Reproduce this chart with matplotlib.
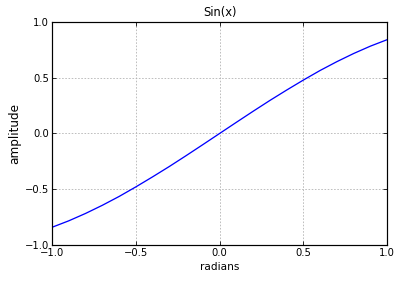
import matplotlib
matplotlib.use('Agg')
import matplotlib.pyplot as plt

# values
x = [-1.0, -0.9, -0.8, -0.7, -0.6, -0.5, -0.4, -0.3, -0.2, -0.1, 0.0,
     0.1, 0.2, 0.3, 0.4, 0.5, 0.6, 0.7, 0.8, 0.9, 1.0]
y = [-0.841, -0.783, -0.717, -0.644, -0.565, -0.479, -0.389, -0.296, -0.199, -0.100, 0.0,
     0.100, 0.199, 0.296, 0.389, 0.479, 0.565, 0.644, 0.717, 0.783, 0.841]

xticks = [-1.0, -0.5, 0.0, 0.5, 1.0]
yticks = [-1.0, -0.5, 0.0, 0.5, 1.0]
ticklabels = ['\u22121.0', '\u22120.5', '0.0', '0.5', '1.0']

fig = plt.figure(figsize=(400/72, 281/72), dpi=72)
ax = fig.add_axes([0.13, 0.128, 0.838, 0.794])

ax.plot(x, y, color='blue', lw=1.3)
ax.set_xlim(-1, 1)
ax.set_ylim(-1, 1)
ax.set_xticks(xticks)
ax.set_yticks(yticks)
ax.set_xticklabels(ticklabels)
ax.set_yticklabels(ticklabels)
ax.tick_params(direction='in', length=4, top=True, right=True, labelsize=10, pad=3)
ax.grid(True, color='#b0b0b0', linestyle=(0, (2, 2)), lw=0.8)
for s in ax.spines.values():
    s.set_linewidth(1.2)

ax.set_title('Sin(x)', fontsize=11.5)
ax.set_xlabel('radians', fontsize=10.5)
ax.set_ylabel('amplitude', fontsize=12)

fig.savefig('out.png', dpi=72)
